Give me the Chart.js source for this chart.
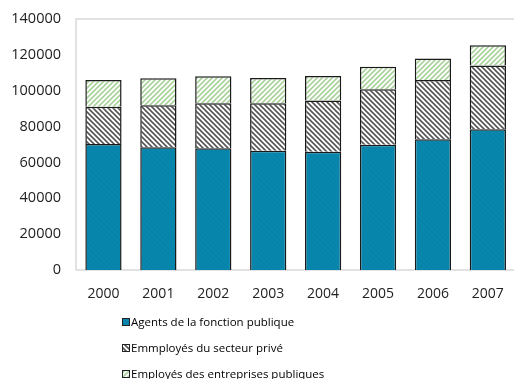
<!DOCTYPE html>
<html>
<head>
<meta charset="utf-8">
<script src="https://cdn.jsdelivr.net/npm/chart.js@4.4.0/dist/chart.umd.min.js"></script>
<style>
  html, body { margin: 0; padding: 0; background: #fff; overflow: hidden; }
  #wrap { width: 520px; height: 379px; }
</style>
</head>
<body>
<div id="wrap"><canvas id="chart" width="520" height="379"></canvas></div>
<script>
// données
const annees = ['2000', '2001', '2002', '2003', '2004', '2005', '2006', '2007'];
const agentsFonction = [70300, 68400, 67900, 66500, 66000, 69900, 72900, 78500];
const employesPrive = [20800, 23500, 25100, 26500, 28600, 30900, 33100, 35500];
const employesEntreprises = [14900, 15000, 15000, 14100, 13600, 12600, 11900, 11300];
const ticksY = [0, 20000, 40000, 60000, 80000, 100000, 120000, 140000];
const nomsSeries = ['Agents de la fonction publique', 'Emmployés du secteur privé', 'Employés des entreprises publiques'];

// motifs de hachures
function hachure(fond, couleur, largeur, sens, pas) {
    const c = document.createElement('canvas');
    c.width = pas; c.height = pas;
    const g = c.getContext('2d');
    g.fillStyle = fond;
    g.fillRect(0, 0, pas, pas);
    g.strokeStyle = couleur;
    g.lineWidth = largeur;
    g.beginPath();
    for (let k = -1; k <= 1; k++) {
        if (sens === '\\') {
            g.moveTo(-1, -1 + k * pas); g.lineTo(pas + 1, pas + 1 + k * pas);
        } else {
            g.moveTo(-1, pas + 1 + k * pas); g.lineTo(pas + 1, -1 + k * pas);
        }
    }
    g.stroke();
    return g.createPattern(c, 'repeat');
}

const motifBleu = hachure('#0887ae', '#0a7ea3', 1, '\\', 5);
const motifPrive = hachure('#ffffff', '#555555', 1.6, '\\', 5);
const motifPublic = hachure('#ffffff', '#a9d39a', 1.6, '/', 5);
const motifs = [motifBleu, motifPrive, motifPublic];

// cadre de la zone de tracé
const cadrePlugin = {
    id: 'cadre',
    beforeDatasetsDraw(chart) {
        const { ctx, chartArea: a } = chart;
        ctx.save();
        ctx.strokeStyle = '#d9d9d9';
        ctx.lineWidth = 1.5;
        ctx.strokeRect(a.left, a.top, a.right - a.left, a.bottom - a.top);
        ctx.restore();
    }
};

// légende verticale sous le graphique
const legendePlugin = {
    id: 'legendeVerticale',
    afterDraw(chart) {
        const ctx = chart.ctx;
        ctx.save();
        ctx.font = '11.5px "Open Sans"';
        ctx.textBaseline = 'middle';
        chart.data.datasets.forEach((ds, i) => {
            const y = 322 + i * 26;
            ctx.fillStyle = ds.backgroundColor;
            ctx.fillRect(122, y - 4, 8, 8);
            ctx.strokeStyle = '#222';
            ctx.lineWidth = 1;
            ctx.strokeRect(122.5, y - 3.5, 7, 7);
            ctx.fillStyle = '#000';
            ctx.fillText(ds.label, 131, y + 1);
        });
        ctx.restore();
    }
};

const ctx = document.getElementById('chart').getContext('2d');
const barOpts = { borderColor: '#1a1a1a', borderWidth: 1.5, barPercentage: 0.66, categoryPercentage: 1 };

new Chart(ctx, {
    type: 'bar',
    data: {
        labels: annees,
        datasets: [
            { label: nomsSeries[0], data: agentsFonction, backgroundColor: motifs[0], ...barOpts },
            { label: nomsSeries[1], data: employesPrive, backgroundColor: motifs[1], ...barOpts },
            { label: nomsSeries[2], data: employesEntreprises, backgroundColor: motifs[2], ...barOpts }
        ]
    },
    options: {
        responsive: false,
        animation: false,
        layout: { padding: { left: 0, right: 2, top: 19, bottom: 0 } },
        plugins: { legend: { display: false }, tooltip: { enabled: false } },
        scales: {
            x: {
                stacked: true,
                grid: { display: false, drawTicks: false },
                border: { display: false },
                ticks: { color: '#222', font: { family: 'Open Sans', size: 14 }, padding: 16 },
                afterFit(scale) { scale.height = 109; }
            },
            y: {
                stacked: true,
                min: 0,
                max: 140000,
                afterBuildTicks(scale) { scale.ticks = ticksY.map(v => ({ value: v })); },
                grid: { display: false, drawTicks: false },
                border: { display: false },
                ticks: { color: '#222', font: { family: 'Open Sans', size: 14.5 }, padding: 15, callback: v => String(v) },
                afterFit(scale) { scale.width = 76; scale.paddingTop = 0; scale.paddingBottom = 0; }
            }
        }
    },
    plugins: [cadrePlugin, legendePlugin]
});
</script>
</body>
</html>
